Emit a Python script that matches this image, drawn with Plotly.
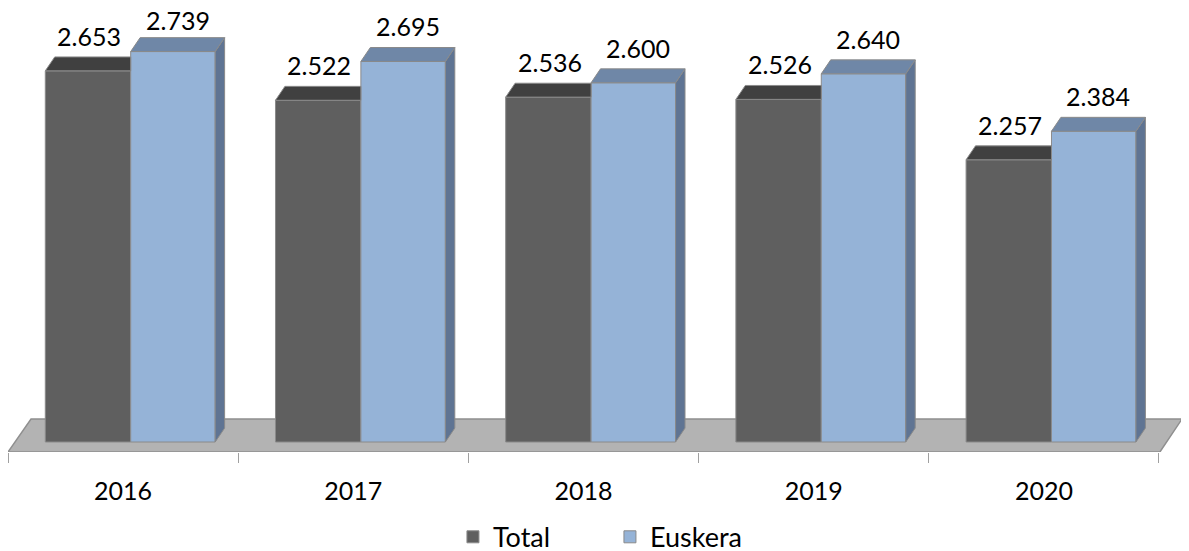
import plotly.graph_objects as go

# ---- data ----
years = ["2016", "2017", "2018", "2019", "2020"]
total = [2653, 2522, 2536, 2526, 2257]
euskera = [2739, 2695, 2600, 2640, 2384]
series_names = ["Total", "Euskera"]

# ---- styling / geometry ----
BASE = 1000              # value at which bars start (front bottom edge)
Y_MIN, Y_MAX = 955.5, 2933
X_MIN, X_MAX = -0.5, 4.6
DX = 0.041               # 3D depth offset in category units
DY = 62                  # 3D depth offset in value units
OFF_T, W_T = -0.338, 0.371
OFF_E, W_E = 0.033, 0.367
FONT = "Lato"
FIG_W, FIG_H = 1189, 560
M_L, M_R, M_T, M_B = 0, 15, 0, 116
PX_PER_UNIT = (FIG_H - M_T - M_B) / (Y_MAX - Y_MIN)
LABEL_GAP = 35           # px between bar top and label centre
LABEL_MIN_Y = 12         # keep labels inside the figure (px from top)

C_T_FRONT, C_T_TOP = "#5f5f5f", "#404040"
C_E_FRONT, C_E_TOP, C_E_SIDE = "#95b3d7", "#6f87a7", "#5f7493"
EDGE = "#8a8a8a"

xs = list(range(len(years)))


def fmt(v):
    return f"{v:,}".replace(",", ".")


def label_shift(v):
    return min(LABEL_GAP, (Y_MAX - v) * PX_PER_UNIT + M_T - LABEL_MIN_Y)


fig = go.Figure()

# floor (decoration derived from axis extent)
floor_top = Y_MIN + 147
fig.add_shape(type="path", xref="x", yref="y", layer="below",
              path=f"M {X_MIN},{Y_MIN} L {4.5 + 0.004},{Y_MIN} L {X_MAX},{floor_top} L {X_MIN + 0.1},{floor_top} Z",
              fillcolor="#b3b3b3", line=dict(color="#8f8f8f", width=1.5))

# front faces
fig.add_trace(go.Bar(name=series_names[0], x=xs, y=[v - BASE for v in total], base=BASE,
                     offset=OFF_T, width=W_T, marker=dict(color=C_T_FRONT, line=dict(color=EDGE, width=1)),
                     hovertext=[fmt(v) for v in total], hoverinfo="text"))
fig.add_trace(go.Bar(name=series_names[1], x=xs, y=[v - BASE for v in euskera], base=BASE,
                     offset=OFF_E, width=W_E, marker=dict(color=C_E_FRONT, line=dict(color=EDGE, width=1)),
                     hovertext=[fmt(v) for v in euskera], hoverinfo="text"))


def poly_trace(polys, color):
    px, py = [], []
    for p in polys:
        for (a, b) in p:
            px.append(a)
            py.append(b)
        px.append(p[0][0])
        py.append(p[0][1])
        px.append(None)
        py.append(None)
    return go.Scatter(x=px, y=py, mode="lines", fill="toself", fillcolor=color,
                      line=dict(color=EDGE, width=1), showlegend=False, hoverinfo="skip")


# Total top faces (clipped at Euskera front)
t_tops = []
for x, v in zip(xs, total):
    L, R = x + OFF_T, x + OFF_T + W_T
    t_tops.append([(L, v), (R, v), (R, v + DY), (L + DX, v + DY)])
fig.add_trace(poly_trace(t_tops, C_T_TOP))

# Euskera side faces and top faces
e_sides, e_tops = [], []
for x, v in zip(xs, euskera):
    L, R = x + OFF_E, x + OFF_E + W_E
    e_sides.append([(R, BASE), (R, v), (R + DX, v + DY), (R + DX, BASE + DY)])
    e_tops.append([(L, v), (R, v), (R + DX, v + DY), (L + DX, v + DY)])
fig.add_trace(poly_trace(e_sides, C_E_SIDE))
fig.add_trace(poly_trace(e_tops, C_E_TOP))

# data labels
for x, v in zip(xs, total):
    fig.add_annotation(x=x + OFF_T + W_T / 2 + 0.005, y=v, yshift=label_shift(v), text=fmt(v),
                       showarrow=False, font=dict(family=FONT, size=25, color="black"))
for x, v in zip(xs, euskera):
    fig.add_annotation(x=x + OFF_E + W_E / 2 + 0.02, y=v, yshift=label_shift(v), text=fmt(v),
                       showarrow=False, font=dict(family=FONT, size=25, color="black"))

fig.update_layout(
    width=FIG_W, height=FIG_H,
    margin=dict(l=M_L, r=M_R, t=M_T, b=M_B, autoexpand=False),
    plot_bgcolor="white", paper_bgcolor="white",
    barmode="overlay",
    font=dict(family=FONT, size=25, color="black"),
    legend=dict(orientation="h", x=0.379, xanchor="left", y=-0.192, yanchor="middle",
                font=dict(family=FONT, size=27, color="black"), itemwidth=30, entrywidth=112),
    xaxis=dict(range=[X_MIN, X_MAX], tickmode="array", tickvals=xs, ticktext=years,
               showgrid=False, zeroline=False, showline=False, ticks="", ticklabelstandoff=22,
               tickfont=dict(family=FONT, size=25, color="black"),
               minor=dict(tickmode="array", tickvals=[i - 0.5 for i in range(len(years) + 1)],
                          ticks="outside", ticklen=10, tickcolor="#a0a0a0", showgrid=False)),
    yaxis=dict(range=[Y_MIN, Y_MAX], visible=False),
)

fig.write_html("out.html")
